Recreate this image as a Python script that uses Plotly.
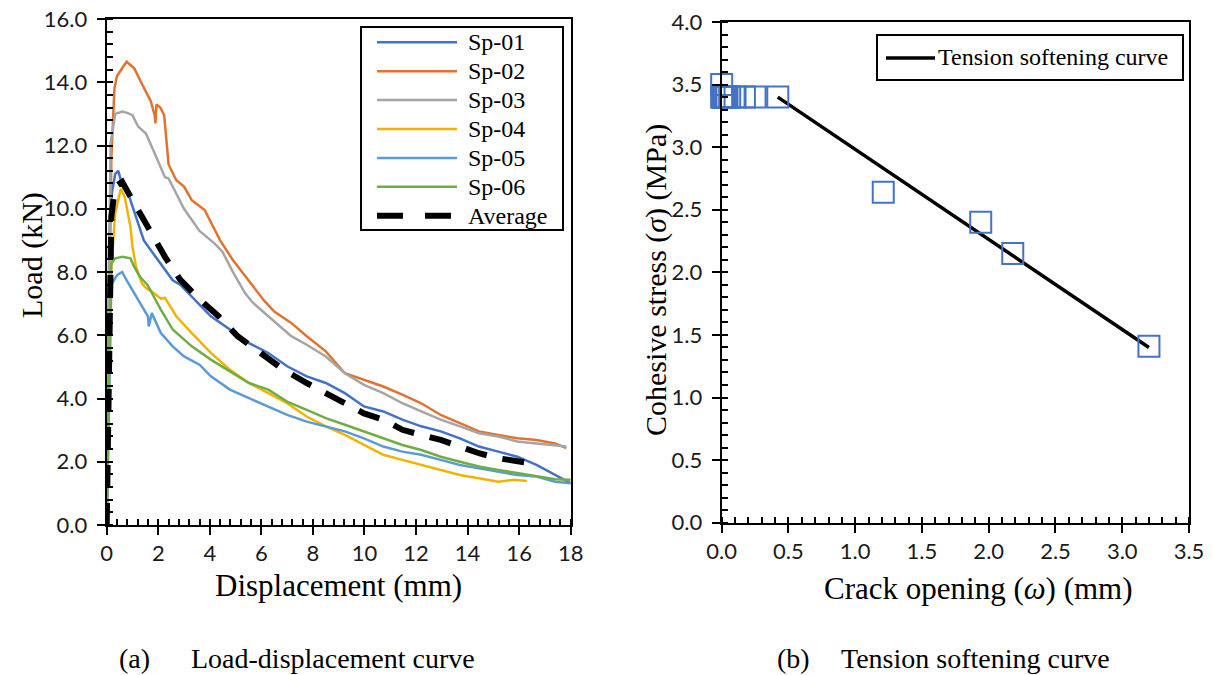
import plotly.graph_objects as go

W, H = 1214, 675

# ---------------- Data: (a) Load-displacement curves ----------------
sp01_x = [0, 0.05, 0.1, 0.2, 0.33, 0.45, 0.6, 0.77, 1.0, 1.22, 1.44, 1.81, 2.1, 2.56, 2.85, 3.3, 4.04, 4.78, 5.5, 6.27, 7.0, 7.76, 8.5, 9.24, 9.98, 10.73, 11.47, 12.2, 12.96, 13.7, 14.44, 15.19, 15.93, 16.67, 17.4, 18.0]
sp01_y = [0, 4.5, 9.2, 10.5, 11.1, 11.2, 10.75, 10.64, 10.06, 9.53, 9.0, 8.58, 8.27, 7.74, 7.6, 7.23, 6.6, 6.18, 5.76, 5.44, 5.02, 4.7, 4.49, 4.17, 3.75, 3.59, 3.33, 3.12, 2.96, 2.74, 2.48, 2.32, 2.16, 1.9, 1.58, 1.32]

sp02_x = [0, 0.08, 0.18, 0.3, 0.4, 0.77, 1.07, 1.29, 1.52, 1.71, 1.86, 1.89, 1.93, 2.08, 2.23, 2.4, 2.7, 3.0, 3.3, 3.8, 4.4, 4.9, 5.5, 6.1, 6.5, 7.16, 7.76, 8.5, 9.24, 9.98, 10.73, 11.47, 12.2, 12.96, 13.7, 14.44, 15.19, 15.93, 16.67, 17.4, 17.83]
sp02_y = [0, 6.0, 11.6, 13.8, 14.2, 14.65, 14.44, 14.07, 13.7, 13.4, 12.96, 12.7, 13.3, 13.2, 12.96, 11.4, 10.9, 10.7, 10.27, 9.96, 9.0, 8.37, 7.74, 7.1, 6.75, 6.39, 5.97, 5.49, 4.8, 4.59, 4.38, 4.12, 3.85, 3.48, 3.22, 2.96, 2.85, 2.74, 2.69, 2.58, 2.43]

sp03_x = [0, 0.07, 0.15, 0.33, 0.6, 0.77, 1.0, 1.22, 1.52, 1.81, 2.04, 2.26, 2.4, 2.7, 3.0, 3.6, 4.19, 4.49, 4.93, 5.38, 5.68, 6.27, 7.16, 7.76, 8.5, 9.24, 9.98, 10.73, 11.47, 12.2, 12.96, 13.7, 14.44, 15.19, 15.93, 16.67, 17.4, 17.83]
sp03_y = [0, 6.0, 12.07, 13.0, 13.07, 13.04, 12.96, 12.6, 12.38, 11.85, 11.43, 11.0, 10.96, 10.48, 10.0, 9.3, 8.9, 8.64, 7.95, 7.32, 7.02, 6.6, 5.97, 5.7, 5.33, 4.8, 4.43, 4.17, 3.85, 3.59, 3.33, 3.12, 2.9, 2.8, 2.64, 2.58, 2.53, 2.48]

sp04_x = [0, 0.08, 0.18, 0.33, 0.55, 0.7, 0.92, 1.0, 1.14, 1.37, 1.52, 1.81, 2.1, 2.26, 2.7, 3.3, 4.04, 4.78, 5.52, 6.27, 7.0, 7.76, 8.5, 9.24, 9.98, 10.73, 11.47, 12.2, 12.96, 13.7, 14.44, 15.19, 15.8, 16.3]
sp04_y = [0, 4.0, 8.16, 9.85, 10.64, 10.37, 9.43, 8.8, 8.16, 7.63, 7.5, 7.34, 7.16, 7.18, 6.6, 6.07, 5.44, 4.91, 4.49, 4.17, 3.85, 3.43, 3.12, 2.85, 2.53, 2.22, 2.06, 1.9, 1.74, 1.58, 1.48, 1.37, 1.43, 1.39]

sp05_x = [0, 0.08, 0.18, 0.4, 0.6, 0.77, 1.0, 1.07, 1.37, 1.6, 1.63, 1.75, 2.1, 2.56, 3.0, 3.6, 4.04, 4.78, 5.52, 6.27, 7.0, 7.76, 8.5, 9.24, 9.98, 10.73, 11.47, 12.2, 12.96, 13.7, 14.44, 15.19, 15.93, 16.67, 17.4, 18.0]
sp05_y = [0, 4.0, 7.6, 7.9, 8.0, 7.74, 7.42, 7.34, 6.92, 6.6, 6.28, 6.7, 6.07, 5.65, 5.33, 5.07, 4.7, 4.28, 4.01, 3.75, 3.48, 3.27, 3.12, 2.96, 2.74, 2.48, 2.32, 2.22, 2.06, 1.9, 1.79, 1.69, 1.58, 1.53, 1.37, 1.32]

sp06_x = [0, 0.08, 0.18, 0.33, 0.62, 0.92, 1.07, 1.29, 1.59, 1.81, 2.1, 2.56, 3.3, 4.04, 4.78, 5.52, 6.27, 7.0, 7.76, 8.5, 9.24, 9.98, 10.73, 11.47, 12.2, 12.96, 13.7, 14.44, 15.19, 15.93, 16.67, 17.4, 18.0]
sp06_y = [0, 4.5, 8.27, 8.43, 8.48, 8.43, 8.16, 7.85, 7.58, 7.23, 6.81, 6.18, 5.65, 5.23, 4.86, 4.49, 4.28, 3.9, 3.64, 3.38, 3.17, 2.96, 2.74, 2.53, 2.37, 2.16, 2.0, 1.85, 1.74, 1.64, 1.53, 1.45, 1.43]

avg_x = [0, 0.05, 0.1, 0.18, 0.33, 0.6, 1.0, 1.37, 1.81, 2.26, 2.85, 3.6, 4.34, 5.08, 5.97, 6.86, 7.76, 8.5, 9.24, 9.98, 10.73, 11.47, 12.2, 12.96, 13.7, 14.44, 15.19, 15.93, 16.3]
avg_y = [0, 4.0, 8.0, 9.75, 10.7, 10.85, 10.27, 9.75, 9.1, 8.48, 7.76, 7.13, 6.6, 5.97, 5.44, 4.91, 4.49, 4.17, 3.85, 3.53, 3.33, 3.01, 2.85, 2.69, 2.48, 2.27, 2.11, 2.0, 1.97]

series_names = ["Sp-01", "Sp-02", "Sp-03", "Sp-04", "Sp-05", "Sp-06"]
series_x = [sp01_x, sp02_x, sp03_x, sp04_x, sp05_x, sp06_x]
series_y = [sp01_y, sp02_y, sp03_y, sp04_y, sp05_y, sp06_y]
series_colors = ["#4472C4", "#E0732F", "#A5A5A5", "#F0B400", "#5B9BD5", "#70AD47"]
avg_name = "Average"

# ---------------- Data: (b) Tension softening ----------------
exp_w = [0.0, 0.0, 0.005, 0.01, 0.015, 0.02, 0.03, 0.04, 0.06, 0.1, 0.17, 0.25, 0.42, 1.21, 1.94, 2.18, 3.20]
exp_s = [3.50, 3.40, 3.40, 3.40, 3.40, 3.40, 3.40, 3.40, 3.40, 3.40, 3.40, 3.40, 3.40, 2.64, 2.40, 2.15, 1.41]
fit_w = [0.42, 3.20]
fit_s = [3.40, 1.40]
fit_name = "Tension softening curve"

left_xticks = list(range(0, 19, 2))
left_yticks = [0, 2, 4, 6, 8, 10, 12, 14, 16]
right_xticks = [0, 0.5, 1.0, 1.5, 2.0, 2.5, 3.0, 3.5]
right_yticks = [0, 0.5, 1.0, 1.5, 2.0, 2.5, 3.0, 3.5, 4.0]

SERIF = "Liberation Serif"
SANS = "Lato"
AVG_DASH = "22px,16px"

fig = go.Figure()
for name, xs, ys, c in zip(series_names, series_x, series_y, series_colors):
    fig.add_trace(go.Scatter(x=xs, y=ys, mode="lines", name=name,
                             line=dict(color=c, width=2.5),
                             xaxis="x", yaxis="y", showlegend=False))
fig.add_trace(go.Scatter(x=avg_x, y=avg_y, mode="lines", name=avg_name,
                         line=dict(color="black", width=6, dash=AVG_DASH),
                         xaxis="x", yaxis="y", showlegend=False))

fig.add_trace(go.Scatter(x=fit_w, y=fit_s, mode="lines", name=fit_name,
                         line=dict(color="black", width=3.5),
                         xaxis="x2", yaxis="y2", showlegend=False))
fig.add_trace(go.Scatter(x=exp_w, y=exp_s, mode="markers", showlegend=False,
                         marker=dict(symbol="square-open", size=21,
                                     color="#4472C4", line=dict(width=2, color="#4472C4")),
                         cliponaxis=False, xaxis="x2", yaxis="y2"))

def px_x(p):
    return p / W

def px_y(p):
    return 1 - p / H

axis_common = dict(showline=True, linecolor="black", linewidth=2, mirror=True,
                   ticks="outside", ticklen=8, tickwidth=1.5, tickcolor="black",
                   showgrid=False, zeroline=False,
                   tickfont=dict(family=SANS, size=22, color="#1a1a1a"))
minor_common = dict(ticks="inside", ticklen=6, tickwidth=1.5, tickcolor="black")

fig.update_layout(
    width=W, height=H,
    paper_bgcolor="white", plot_bgcolor="white",
    margin=dict(l=0, r=0, t=0, b=0, autoexpand=False),
    showlegend=False,
    xaxis=dict(domain=[px_x(106.7), px_x(570.7)], range=[0, 18], tickvals=left_xticks,
               ticktext=[str(v) for v in left_xticks],
               minor=dict(dtick=0.4, tick0=0, **minor_common),
               anchor="y", **axis_common),
    yaxis=dict(domain=[px_y(525), px_y(19)], range=[0, 16], tickvals=left_yticks,
               ticktext=[f"{v:.1f}" for v in left_yticks],
               minor=dict(dtick=0.4, tick0=0, **minor_common),
               ticklabelstandoff=5,
               anchor="x", **axis_common),
    xaxis2=dict(domain=[px_x(721.7), px_x(1189)], range=[0, 3.5], tickvals=right_xticks,
                ticktext=[f"{v:.1f}" for v in right_xticks],
                minor=dict(dtick=0.1, tick0=0, **minor_common),
                anchor="y2", **axis_common),
    yaxis2=dict(domain=[px_y(522.7), px_y(22)], range=[0, 4], tickvals=right_yticks,
                ticktext=[f"{v:.1f}" for v in right_yticks],
                minor=dict(dtick=0.1, tick0=0, **minor_common),
                ticklabelstandoff=5,
                anchor="x2", **axis_common),
)

shapes = []
ann = []

def add_text(text, x, y, size, angle=0, xanchor="center"):
    ann.append(dict(text=text, x=px_x(x), y=px_y(y), xref="paper", yref="paper",
                    showarrow=False, textangle=angle, xanchor=xanchor, yanchor="middle",
                    font=dict(family=SERIF, size=size, color="black")))

# ----- legend (a) -----
shapes.append(dict(type="rect", xref="paper", yref="paper",
                   x0=px_x(361), x1=px_x(563), y0=px_y(27), y1=px_y(230),
                   line=dict(color="black", width=2), fillcolor="white", layer="above"))
leg_names = series_names + [avg_name]
leg_colors = series_colors + ["black"]
for i, (nm, c) in enumerate(zip(leg_names, leg_colors)):
    yy = 42.3 + 28.9 * i
    is_avg = nm == avg_name
    shapes.append(dict(type="line", xref="paper", yref="paper",
                       x0=px_x(377), x1=px_x(457), y0=px_y(yy), y1=px_y(yy),
                       line=dict(color=c, width=6 if is_avg else 2.5,
                                 dash="26px,22px" if is_avg else "solid"),
                       layer="above"))
    add_text(nm, 466, yy, 24, xanchor="left")

# ----- legend (b) -----
shapes.append(dict(type="rect", xref="paper", yref="paper",
                   x0=px_x(877), x1=px_x(1183), y0=px_y(35), y1=px_y(80),
                   line=dict(color="black", width=2), fillcolor="white", layer="above"))
shapes.append(dict(type="line", xref="paper", yref="paper",
                   x0=px_x(886), x1=px_x(935), y0=px_y(58), y1=px_y(58),
                   line=dict(color="black", width=3.5), layer="above"))
add_text(fit_name, 936, 57, 24, xanchor="left")

# ----- axis titles & captions -----
add_text("Load (kN)", 32, 255, 30, angle=-90)
add_text("Displacement (mm)", 338.7, 585, 31)
add_text("Cohesive stress (<i>σ</i>) (MPa)", 656, 280, 30, angle=-90)
add_text("Crack opening (<i>ω</i>) (mm)", 978, 588, 31)
add_text("(a)", 117, 658, 28, xanchor="left")
add_text("Load-displacement curve", 189, 658, 28, xanchor="left")
add_text("(b)", 775, 658, 28, xanchor="left")
add_text("Tension softening curve", 839, 658, 28, xanchor="left")

fig.update_layout(shapes=shapes, annotations=ann)

fig.write_html("out.html", config={"displayModeBar": False},
               post_script="document.body.style.margin='0';document.body.style.padding='0';document.body.style.overflow='hidden';")
